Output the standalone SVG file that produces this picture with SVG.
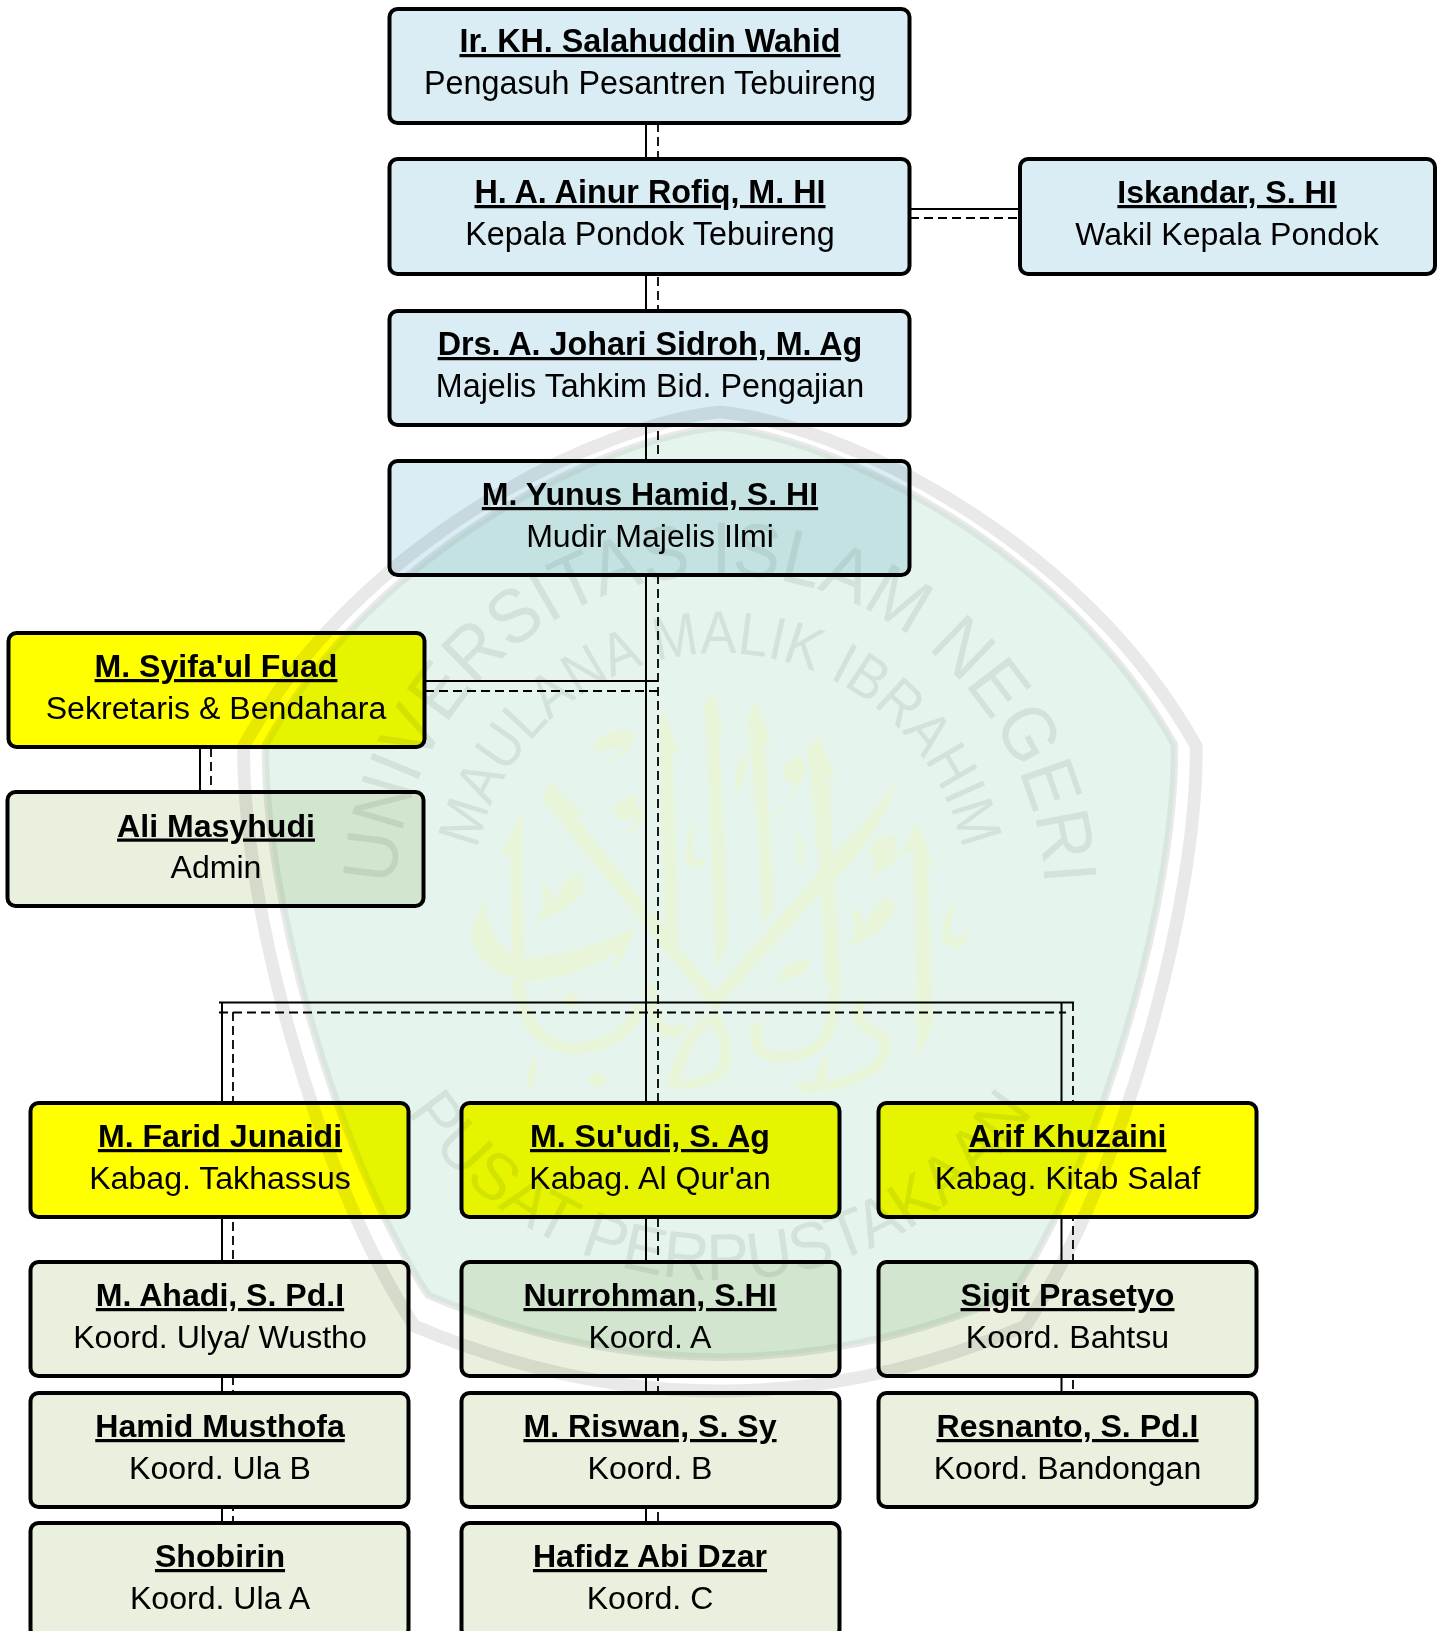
<svg xmlns="http://www.w3.org/2000/svg" width="1445" height="1631" viewBox="0 0 1445 1631">
<style>
text{font-family:"Liberation Sans",Arial,sans-serif;fill:#000;text-anchor:middle}
.n{font-size:32.1px;font-weight:700;text-decoration:underline}
.r{font-size:32.1px}
.t .n,.t .r{font-size:32.3px}
.box{stroke:#000;stroke-width:4}
.blue{fill:#dbedf4}.yel{fill:#ffff00}.grn{fill:#e9f0dd}
.s{fill:none;stroke:#000;stroke-width:2}
.d{fill:none;stroke:#000;stroke-width:1.8;stroke-dasharray:9 5}
.wm text{fill:#d3e3da}
.calf{fill:#e9f5d9}
.cals{fill:none;stroke:#e9f5d9;stroke-linecap:round;stroke-linejoin:round}
</style>
<defs>
<path id="shield" d="M720 405C845 418 1087 535 1203 744C1205 900 1130 1180 1030 1332Q720 1464 410 1332C310 1180 235 900 237 744C353 535 595 418 720 405Z"/>
<path id="a1" d="M395 900A325 325 0 0 1 1045 900"/>
<path id="a2" d="M472 901A248 248 0 0 1 968 901"/>
<path id="a3" d="M345 905A375 375 0 0 0 1095 905"/>
</defs>
<rect width="1445" height="1631" fill="#fff"/>
<g id="connectors">
<path class="s" d="M646 123V459M646 575V1102M646 1218V1522"/>
<path class="d" d="M658 123V459M658 575V1102M658 1218V1522"/>
<path class="s" d="M910 209H1020M425 681H658M200 748V791M219 1002.500H1074M222 1002V1522M1061.500 1002V1392"/>
<path class="d" d="M910 218H1020M425 691H658M211 748V791M219 1012.500H1066M233 1012V1522M1073 1002V1392"/>
</g>
<g id="n1" class="t"><rect class="box blue" x="389.500" y="9" width="520" height="114" rx="8"/><text class="n" x="650" y="52">Ir. KH. Salahuddin Wahid</text><text class="r" x="650" y="94">Pengasuh Pesantren Tebuireng</text></g>
<g id="n2" class="t"><rect class="box blue" x="389.500" y="159" width="520" height="115" rx="8"/><text class="n" x="650" y="203">H. A. Ainur Rofiq, M. HI</text><text class="r" x="650" y="245">Kepala Pondok Tebuireng</text></g>
<g id="n3"><rect class="box blue" x="1020" y="159" width="415" height="115" rx="8"/><text class="n" x="1227" y="203">Iskandar, S. HI</text><text class="r" x="1227" y="245">Wakil Kepala Pondok</text></g>
<g id="n4" class="t"><rect class="box blue" x="389.500" y="311" width="520" height="114" rx="8"/><text class="n" x="650" y="355">Drs. A. Johari Sidroh, M. Ag</text><text class="r" x="650" y="397">Majelis Tahkim Bid. Pengajian</text></g>
<g id="n5"><rect class="box blue" x="389.500" y="461" width="520" height="114" rx="8"/><text class="n" x="650" y="505">M. Yunus Hamid, S. HI</text><text class="r" x="650" y="547">Mudir Majelis Ilmi</text></g>
<g id="n6"><rect class="box yel" x="8.500" y="633" width="416" height="114" rx="8"/><text class="n" x="216" y="677">M. Syifa'ul Fuad</text><text class="r" x="216" y="719">Sekretaris &amp; Bendahara</text></g>
<g id="n7"><rect class="box grn" x="7.500" y="792" width="416" height="114" rx="8"/><text class="n" x="216" y="836.500">Ali Masyhudi</text><text class="r" x="216" y="878">Admin</text></g>
<g id="n8"><rect class="box yel" x="30.500" y="1103" width="378" height="114" rx="8"/><text class="n" x="220" y="1147">M. Farid Junaidi</text><text class="r" x="220" y="1189">Kabag. Takhassus</text></g>
<g id="n9"><rect class="box yel" x="461.500" y="1103" width="378" height="114" rx="8"/><text class="n" x="650" y="1147">M. Su'udi, S. Ag</text><text class="r" x="650" y="1189">Kabag. Al Qur'an</text></g>
<g id="n10"><rect class="box yel" x="878.500" y="1103" width="378" height="114" rx="8"/><text class="n" x="1067.500" y="1147">Arif Khuzaini</text><text class="r" x="1067.500" y="1189">Kabag. Kitab Salaf</text></g>
<g id="n11"><rect class="box grn" x="30.500" y="1262" width="378" height="114" rx="8"/><text class="n" x="220" y="1306">M. Ahadi, S. Pd.I</text><text class="r" x="220" y="1348">Koord. Ulya/ Wustho</text></g>
<g id="n12"><rect class="box grn" x="461.500" y="1262" width="378" height="114" rx="8"/><text class="n" x="650" y="1306">Nurrohman, S.HI</text><text class="r" x="650" y="1348">Koord. A</text></g>
<g id="n13"><rect class="box grn" x="878.500" y="1262" width="378" height="114" rx="8"/><text class="n" x="1067.500" y="1306">Sigit Prasetyo</text><text class="r" x="1067.500" y="1348">Koord. Bahtsu</text></g>
<g id="n14"><rect class="box grn" x="30.500" y="1393" width="378" height="114" rx="8"/><text class="n" x="220" y="1437">Hamid Musthofa</text><text class="r" x="220" y="1479">Koord. Ula B</text></g>
<g id="n15"><rect class="box grn" x="461.500" y="1393" width="378" height="114" rx="8"/><text class="n" x="650" y="1437">M. Riswan, S. Sy</text><text class="r" x="650" y="1479">Koord. B</text></g>
<g id="n16"><rect class="box grn" x="878.500" y="1393" width="378" height="114" rx="8"/><text class="n" x="1067.500" y="1437">Resnanto, S. Pd.I</text><text class="r" x="1067.500" y="1479">Koord. Bandongan</text></g>
<g id="n17"><rect class="box grn" x="30.500" y="1523" width="378" height="114" rx="8"/><text class="n" x="220" y="1567">Shobirin</text><text class="r" x="220" y="1609">Koord. Ula A</text></g>
<g id="n18"><rect class="box grn" x="461.500" y="1523" width="378" height="114" rx="8"/><text class="n" x="650" y="1567">Hafidz Abi Dzar</text><text class="r" x="650" y="1609">Koord. C</text></g>
<g id="watermark" class="wm" style="mix-blend-mode:multiply">
<use href="#shield" transform="translate(10 12.600) scale(.986)" fill="none" stroke="#e9e9e9" stroke-width="13"/>
<use href="#shield" transform="translate(44.600 50) scale(.938 .934)" fill="none" stroke="#e9e9e9" stroke-width="11"/>
<use href="#shield" transform="translate(44.600 50) scale(.938 .934)" fill="#e6f4ee" stroke="#d8e6de" stroke-width="5"/>
<g transform="translate(420 650) scale(.3827 .3333)">
<path class="calf" d="M268 485L272 925Q400 920 562 835Q540 900 505 975L515 905Q400 990 270 992Q150 960 135 860Q140 790 175 745Q160 840 240 915L235 610L210 615Z"/>
<path class="calf" d="M340 395L430 495L405 495L770 1025L1045 660L1012 295L1040 255L1087 385L1070 380L1078 610Q1170 520 1242 395Q1220 530 1082 690L1100 1020L1060 1000L1048 725L770 1085L320 450Z"/>
<path class="calf" d="M635 180L680 315L660 300L675 890L640 860L625 215Z"/>
<path class="calf" d="M765 125L797 250L782 240L805 850Q800 910 775 950L745 200L735 180Z"/>
<path class="calf" d="M880 155L918 280L900 270L925 760Q915 800 895 825L885 560L855 205Z"/>
<path class="calf" d="M1298 510L1342 650L1328 650L1340 1100Q1330 1180 1300 1215L1290 600L1262 610Z"/>
<path class="calf" d="M445 350Q530 320 525 290Q480 300 450 300Q460 240 555 240Q570 320 445 350ZM505 575Q570 530 590 500L520 510L505 480Q520 440 570 435L560 470L590 470Q570 520 505 575ZM300 820Q390 780 430 720Q430 670 405 670Q370 700 350 760Q345 710 315 700Q335 770 300 820ZM725 500Q690 570 692 630Q710 670 750 640Q740 620 720 630Q700 600 725 500ZM855 305Q820 340 825 430Q855 400 855 305ZM985 530Q990 600 985 660Q1020 620 985 530ZM950 360Q960 320 995 315Q1010 340 1005 380L990 400Q970 470 850 565Q900 520 960 450Q985 410 975 400Q950 395 950 360ZM1120 890Q1210 850 1240 790Q1240 740 1215 740Q1180 770 1160 830Q1155 780 1125 770Q1145 840 1120 890ZM1400 740Q1360 810 1365 870Q1390 910 1430 880L1435 825Q1420 880 1385 850Q1390 800 1400 740ZM930 995Q950 930 1020 930Q1020 980 930 995ZM1180 620Q1170 590 1190 565L1245 555L1240 600L1262 610Q1230 650 1170 690Q1195 650 1180 620ZM370 1050L395 1025L420 1055L395 1080ZM300 1220Q310 1280 285 1325Q270 1270 300 1220ZM1060 1215Q1080 1280 1040 1320Q1020 1280 1060 1215ZM435 1290L465 1265L495 1295L460 1315Z"/>
<path class="cals" stroke-width="34" d="M255 1000Q280 1190 400 1195Q530 1190 570 1080M600 1020Q610 1170 680 1140"/>
<path class="cals" stroke-width="30" d="M660 1300Q700 1140 770 1100Q830 1230 770 1280Q710 1310 660 1300Z"/>
<path class="cals" stroke-width="30" d="M880 1130Q860 1230 960 1220Q1090 1210 1080 1030M1150 1060Q1130 1130 1200 1150Q1240 1190 1180 1260Q1090 1320 1000 1310"/>
</g>
<text font-size="76"><textPath href="#a1" startOffset="50%" textLength="990" lengthAdjust="spacingAndGlyphs">UNIVERSITAS ISLAM NEGERI</textPath></text>
<text font-size="60"><textPath href="#a2" startOffset="50%" textLength="675" lengthAdjust="spacingAndGlyphs">MAULANA MALIK IBRAHIM</textPath></text>
<text font-size="66"><textPath href="#a3" startOffset="50%" textLength="740" lengthAdjust="spacingAndGlyphs">PUSAT PERPUSTAKAAN</textPath></text>
</g>
</svg>
